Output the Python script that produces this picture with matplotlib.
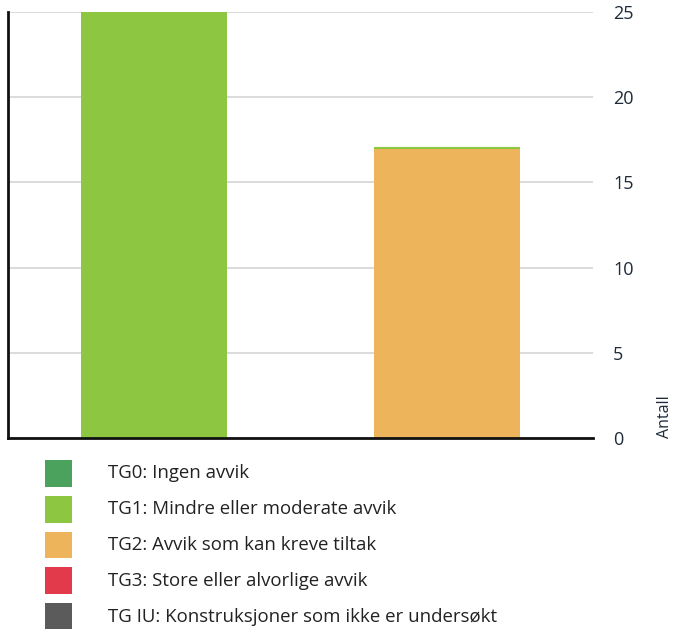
import matplotlib.pyplot as plt
from matplotlib.patches import Rectangle
import numpy as np

# data
categories = ["A", "B"]
series_names = ["TG0: Ingen avvik", "TG1: Mindre eller moderate avvik",
                "TG2: Avvik som kan kreve tiltak", "TG3: Store eller alvorlige avvik",
                "TG IU: Konstruksjoner som ikke er undersøkt"]
series_colors = ["#4aa25c", "#8dc641", "#eeb45b", "#e23a4b", "#5b5b5b"]
tg0 = [0, 0]
tg1 = [25, 0]
tg2 = [0, 17]
tg3 = [0, 0]
tgiu = [0, 0]
y_ticks = [0, 5, 10, 15, 20, 25]

plt.rcParams['font.family'] = ['Open Sans', 'DejaVu Sans']
text_col = "#1e2b3a"
W, H = 674, 629

fig = plt.figure(figsize=(W / 100, H / 100), dpi=100)
ax = fig.add_axes([8/W, 1-438/H, 585/W, 426/H])

x = np.arange(len(categories))
# stacking order: TG2 at bottom, then TG1 above it
order = [(tg2, series_colors[2]), (tg1, series_colors[1]), (tg0, series_colors[0]),
         (tg3, series_colors[3]), (tgiu, series_colors[4])]
bottom = np.zeros(len(categories))
for vals, col in order:
    vals = np.array(vals, dtype=float)
    ax.bar(x, vals, 0.5, bottom=bottom, color=col, linewidth=0, zorder=2)
    bottom += vals

# thin TG1 rim on top of second bar (zero-height segment drawn with stroke)
ax.bar(x[1], tg1[1], 0.5, bottom=tg2[1], color=series_colors[1],
       edgecolor=series_colors[1], linewidth=1.5, zorder=3)

ax.set_xlim(-0.5, 1.5)
ax.set_ylim(0, 25)
ax.set_xticks([])
ax.yaxis.tick_right()
ax.set_yticks(y_ticks)
ax.tick_params(axis='y', length=0, pad=14.5, labelsize=13, labelcolor=text_col)
ax.grid(axis='y', color='#d4d4d4', linewidth=1.2, zorder=0)
ax.set_axisbelow(True)

for s in ['top', 'right']:
    ax.spines[s].set_visible(False)
for s in ['left', 'bottom']:
    ax.spines[s].set_linewidth(2)
    ax.spines[s].set_color('#111111')

fig.text(665/W, 1-438/H, "Antall", rotation=90, ha='center', va='bottom',
         fontsize=11.5, color=text_col)

# legend drawn by hand: square + label per series
for i, (name, col) in enumerate(zip(series_names, series_colors)):
    top = 460 + 35.8 * i
    fig.patches.append(Rectangle((45/W, 1-(top+26.7)/H), 27/W, 26.7/H,
                                 transform=fig.transFigure, facecolor=col,
                                 edgecolor='none'))
    fig.text(108/W, 1-(top+13.3)/H, name, ha='left', va='center',
             fontsize=13.4, color='#222222')

fig.savefig("out.png", dpi=100)
